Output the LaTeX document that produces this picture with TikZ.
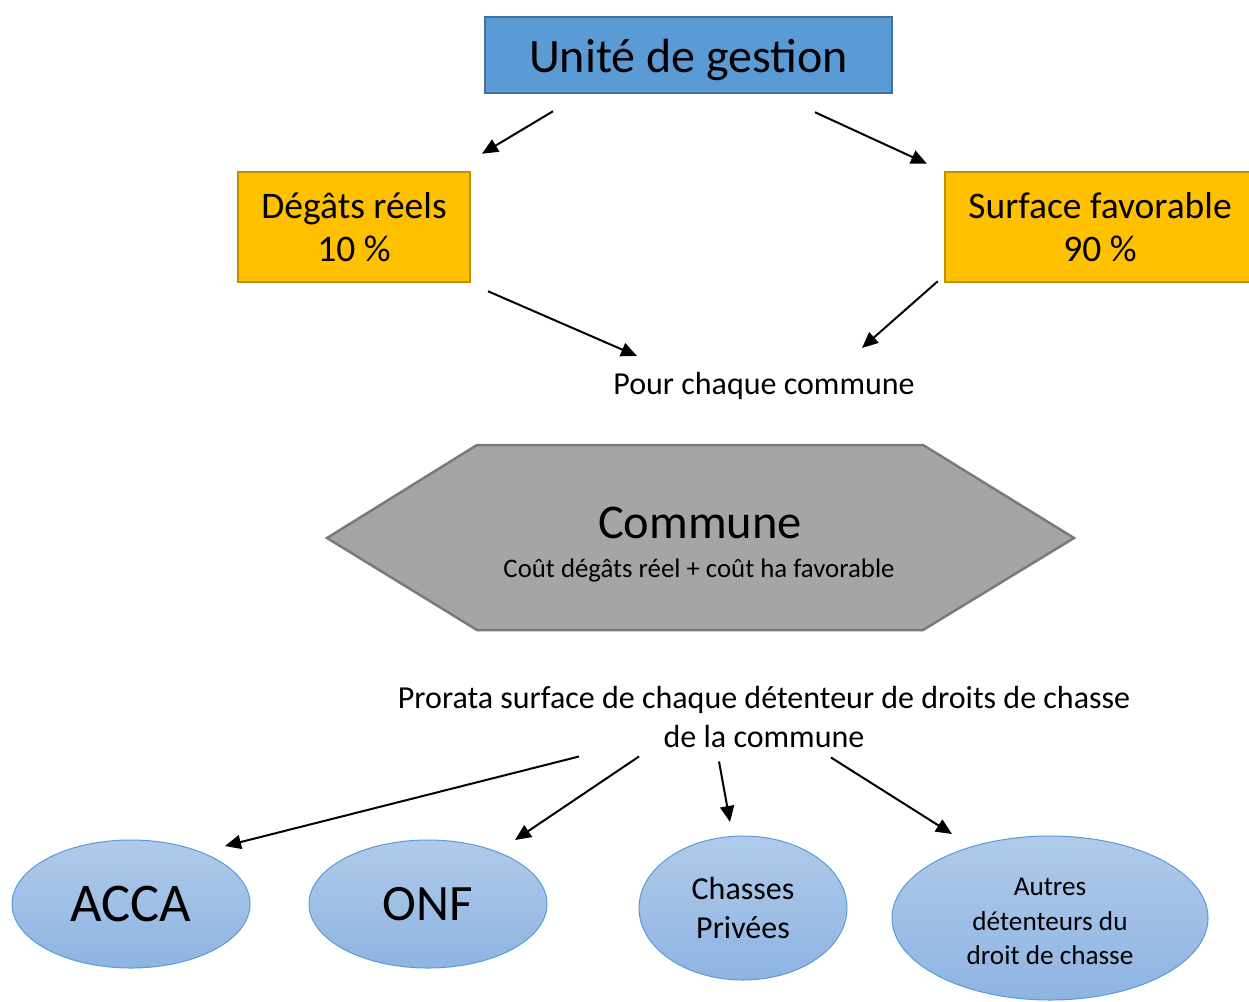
\documentclass[tikz,border=0pt]{standalone}
\usepackage{fontspec}
\setmainfont{Carlito}
\usetikzlibrary{shapes.geometric,arrows.meta,calc}

\definecolor{ugfill}{HTML}{5B9BD5}
\definecolor{ugline}{HTML}{41719C}
\definecolor{yfill}{HTML}{FFC000}
\definecolor{yline}{HTML}{BF9000}
\definecolor{hexfill}{HTML}{A5A5A5}
\definecolor{hexline}{HTML}{7A7A7A}
\definecolor{elltop}{HTML}{B0CAEA}
\definecolor{ellbot}{HTML}{8EB4E2}
\definecolor{ellline}{HTML}{5B9BD5}

\newcommand{\fsz}[2]{\fontsize{#1}{#2}\selectfont}

\tikzset{
  topbox/.style={draw=ugline, line width=2.5pt, fill=ugfill, inner sep=0pt,
    minimum width=407pt, minimum height=76pt, font=\fsz{48}{56},
    text height=34pt, text depth=0pt},
  ybox/.style={draw=yline, line width=2.5pt, fill=yfill, inner sep=0pt,
    minimum height=110pt, align=center, font=\fsz{37.5}{44}},
  plain/.style={inner sep=0pt, align=center},
  holder/.style={ellipse, draw=ellline, line width=1pt, top color=elltop,
    bottom color=ellbot, inner sep=0pt, align=center},
  arr/.style={line width=2pt, -{Triangle[length=16pt,width=14pt]}}
}

\begin{document}
\begin{tikzpicture}[x=1pt,y=-1pt]
\useasboundingbox (0,0) rectangle (1249,1001);

% management unit and its two weighting factors
\node[topbox] (ug) at (688.5,55) {Unité de gestion};
\node[ybox, minimum width=232pt] (dr) at (354,227) {\raisebox{-1pt}{Dégâts réels}\\10 \%};
\node[ybox, minimum width=310pt] (sf) at (1100,227) {\raisebox{-1pt}{Surface favorable}\\90 \%};

\node[plain, font=\fsz{32}{38}] (pc) at (764,386) {Pour chaque commune};

\draw[arr] ($(ug.south)+(-135.5,17)$) -- ($(dr.north)+(128,-17)$);
\draw[arr] ($(ug.south)+(126.5,18)$) -- ($(sf.north)+(-173,-7)$);
\draw[arr] ($(dr.south)+(134,8)$) -- ($(pc.center)+(-127,-30)$);
\draw[arr] ($(sf.south west)+(-6,-2)$) -- ($(pc.center)+(98,-38)$);

% commune hexagon
\draw[draw=hexline, line width=2.5pt, fill=hexfill]
  (327,538) -- (477,445) -- (923,445) -- (1074,538) -- (923,630) -- (477,630) -- cycle;
\node[plain, font=\fsz{48.5}{56}] (cm) at (700,523) {Commune};
\node[plain, font=\fsz{26.8}{32}] (cmc) at (699,570) {Coût dégâts réel + coût ha favorable};

% distribution among hunting-right holders
\node[plain, font=\fsz{32}{39}] (pr) at (764,716.5)
  {Prorata surface de chaque détenteur de droits de chasse\\de la commune};

\node[holder, minimum width=238pt, minimum height=128pt, font=\fsz{54.5}{60}] (acca) at (131,904) {\raisebox{-2pt}{ACCA}};
\node[holder, minimum width=238pt, minimum height=128pt, font=\fsz{51}{60}] (onf) at (428,904) {\raisebox{-2pt}{ONF}};
\node[holder, minimum width=208pt, minimum height=144pt, font=\fsz{32}{39.5}] (ch) at (743,908) {Chasses\\Privées};
\node[holder, minimum width=316pt, minimum height=164pt] (au) at (1050,918) {};
\node[plain, font=\fsz{27.2}{34.5}] (aut) at (1050,921.5)
  {Autres\\détenteurs du\\droit de chasse};

\draw[arr] ($(pr.center)+(-185,40)$) -- ($(acca.center)+(94,-58)$);
\draw[arr] ($(pr.center)+(-125,40)$) -- ($(onf.center)+(87,-64)$);
\draw[arr] ($(pr.center)+(-45,45)$) -- ($(ch.center)+(-13,-86)$);
\draw[arr] ($(pr.center)+(67,41)$) -- ($(au.center)+(-98,-84)$);
\end{tikzpicture}
\end{document}
